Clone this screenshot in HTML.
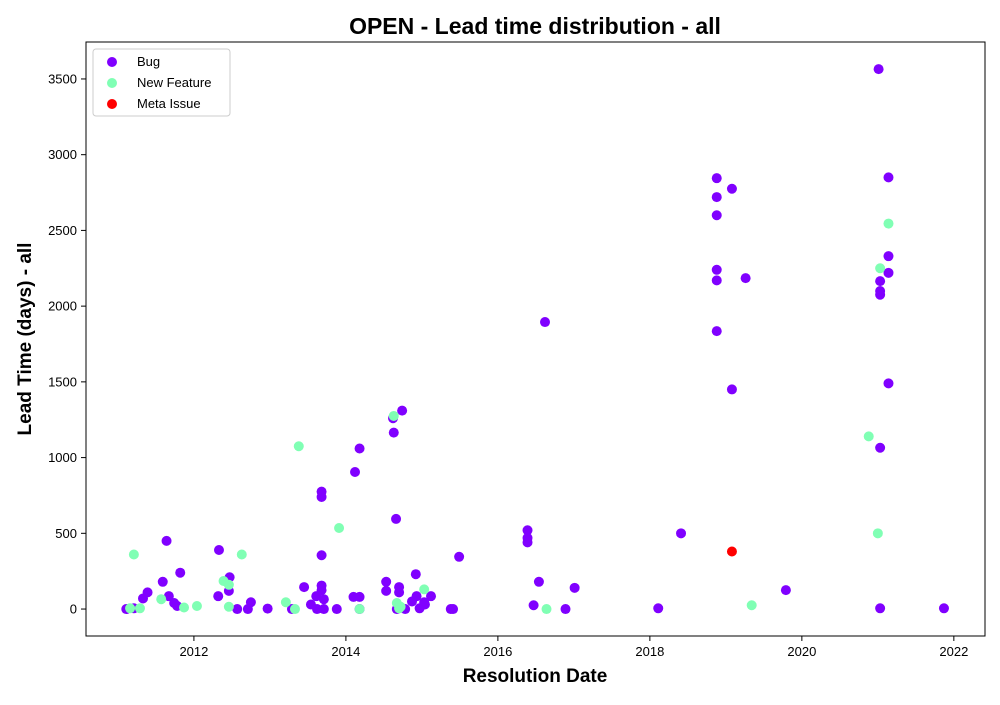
<!DOCTYPE html>
<html><head><meta charset="utf-8"><style>
body{margin:0;background:#fff;font-family:"Liberation Sans","DejaVu Sans",sans-serif}
</style></head><body>
<svg width="1000" height="700" xmlns="http://www.w3.org/2000/svg">
<text x="535" y="34" font-size="23" font-weight="bold" text-anchor="middle">OPEN - Lead time distribution - all</text>
<text x="535" y="682" font-size="19" font-weight="bold" text-anchor="middle">Resolution Date</text>
<text transform="translate(31,339) rotate(-90)" font-size="19" font-weight="bold" text-anchor="middle">Lead Time (days) - all</text>
<g id="ticks"></g>
<g id="marks"></g>
<rect x="86" y="42" width="899" height="594" fill="none" stroke="#000" stroke-width="1"/>
<g>
<rect x="93" y="49" width="137" height="67" rx="3" fill="#fff" stroke="#ccc"/>
<circle cx="112" cy="62" r="5" fill="#8000ff"/><text x="137" y="66" font-size="13">Bug</text>
<circle cx="112" cy="83" r="5" fill="#80ffb4"/><text x="137" y="87" font-size="13">New Feature</text>
<circle cx="112" cy="104" r="5" fill="#ff0000"/><text x="137" y="108" font-size="13">Meta Issue</text>
</g>
</svg>
<script>
const xTicks=[2012,2014,2016,2018,2020,2022];
const yTicks=[0,500,1000,1500,2000,2500,3000,3500];
const bugDates=[2011.11,2011.21,2011.33,2011.39,2011.59,2011.64,2011.67,2011.74,2011.78,2011.82,2012.32,2012.33,2012.46,2012.47,2012.57,2012.71,2012.75,2012.97,2013.29,2013.45,2013.54,2013.61,2013.62,2013.68,2013.68,2013.68,2013.68,2013.68,2013.71,2013.71,2013.88,2014.1,2014.12,2014.18,2014.18,2014.18,2014.53,2014.53,2014.62,2014.63,2014.66,2014.74,2014.70,2014.70,2014.67,2014.78,2014.87,2014.92,2014.93,2014.97,2015.03,2015.04,2015.12,2015.38,2015.41,2015.49,2016.39,2016.39,2016.39,2016.47,2016.54,2016.62,2016.89,2017.01,2018.11,2018.41,2018.88,2018.88,2018.88,2018.88,2018.88,2018.88,2019.08,2019.08,2019.26,2019.79,2021.01,2021.03,2021.03,2021.03,2021.03,2021.03,2021.14,2021.14,2021.14,2021.14,2021.87];
const bugDays=[0,5,70,110,180,450,85,40,20,240,85,390,120,210,0,0,45,3,0,145,30,85,0,355,740,775,155,125,65,0,0,80,905,1060,80,0,180,120,1260,1165,595,1310,145,110,0,0,50,230,85,5,45,30,85,0,0,345,520,470,440,25,180,1895,0,140,5,500,2845,2720,2600,2240,2170,1835,2775,1450,2185,125,3565,2165,2100,2075,1065,5,2850,2330,2220,1490,5];
const nfDates=[2011.16,2011.21,2011.29,2011.57,2011.87,2012.04,2012.39,2012.46,2012.46,2012.63,2013.21,2013.33,2013.38,2013.91,2014.18,2014.63,2014.67,2014.70,2014.72,2015.03,2016.64,2019.34,2020.88,2021.03,2021.0,2021.14];
const nfDays=[5,360,5,65,10,20,185,160,15,360,45,0,1075,535,0,1275,40,5,15,130,0,25,1140,2250,500,2545];
const metaDates=[2019.08];
const metaDays=[380];
const X0=86,X1=985,Y0=636,Y1=42,xMin=2010.58,xMax=2022.41,yMin=-178,yMax=3744;
const xs=v=>X0+(v-xMin)/(xMax-xMin)*(X1-X0);
const ys=v=>Y0-(v-yMin)/(yMax-yMin)*(Y0-Y1);
const NS="http://www.w3.org/2000/svg";
const tg=document.getElementById('ticks'),mg=document.getElementById('marks');
function mk(t,a,p){const e=document.createElementNS(NS,t);for(const k in a)e.setAttribute(k,a[k]);p.appendChild(e);return e;}
xTicks.forEach(v=>{const x=xs(v);
const l=mk('line',{x1:x,x2:x,y1:636,y2:641,stroke:'#000'},tg);


const t=mk('text',{x:x,y:656,'font-size':13,'text-anchor':'middle'},tg);t.textContent=v;

});
yTicks.forEach(v=>{const y=ys(v);
const l=mk('line',{x1:81,x2:86,y1:y,y2:y,stroke:'#000'},tg);


const t=mk('text',{x:77,y:y+4.5,'font-size':13,'text-anchor':'end'},tg);t.textContent=v;

});
function series(d,v,c,n){d.forEach((dt,i)=>{const p=mk('circle',{cx:xs(dt),cy:ys(v[i]),r:5,fill:c},mg);

});}
series(bugDates,bugDays,'#8000ff','bug-point');
series(nfDates,nfDays,'#80ffb4','new-feature-point');
series(metaDates,metaDays,'#ff0000','meta-issue-point');
</script>
</body></html>
